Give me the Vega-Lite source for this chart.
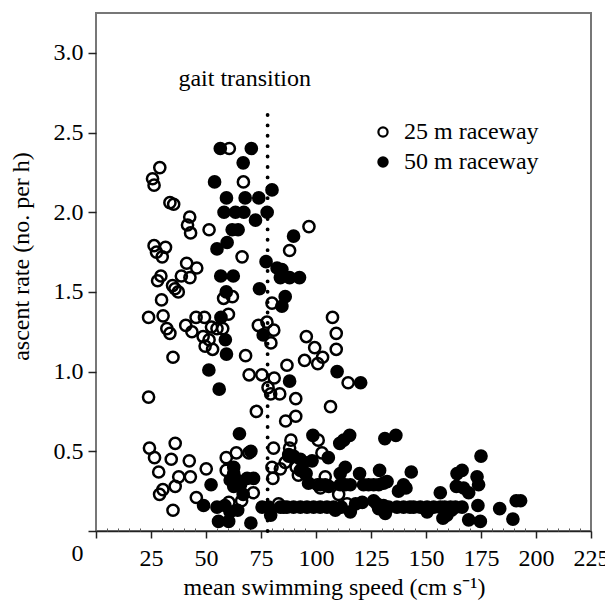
{
"$schema": "https://vega.github.io/schema/vega-lite/v6.json",
"width": 495, "height": 518,
"autosize": {"type": "none"},
"padding": {"left": 96, "top": 13, "right": 14, "bottom": 75},
"background": "white",
"config": {
  "view": {"stroke": "#777", "strokeWidth": 2},
  "font": "Liberation Serif",
  "axis": {"labelFont": "Liberation Serif", "titleFont": "Liberation Serif", "labelColor": "black", "titleColor": "black", "titleFontWeight": "normal", "labelFontSize": 24, "titleFontSize": 24, "grid": false, "labelFlush": false, "labelOverlap": false, "labelBound": false, "tickColor": "#222", "tickWidth": 1.5}
},
"resolve": {"axis": {"x": "independent"}},
"layer": [
{
  "data": {"values": [
{"speed":23.9,"rate":0.84,"raceway":"25 m raceway"},{"speed":23.9,"rate":1.34,"raceway":"25 m raceway"},{"speed":25.7,"rate":2.21,"raceway":"25 m raceway"},{"speed":26.4,"rate":2.17,"raceway":"25 m raceway"},{"speed":29.0,"rate":2.28,"raceway":"25 m raceway"},{"speed":26.4,"rate":1.79,"raceway":"25 m raceway"},{"speed":27.5,"rate":1.75,"raceway":"25 m raceway"},{"speed":31.6,"rate":1.78,"raceway":"25 m raceway"},{"speed":30.1,"rate":1.72,"raceway":"25 m raceway"},{"speed":29.5,"rate":1.60,"raceway":"25 m raceway"},{"speed":28.0,"rate":1.57,"raceway":"25 m raceway"},{"speed":29.8,"rate":1.45,"raceway":"25 m raceway"},{"speed":30.5,"rate":1.35,"raceway":"25 m raceway"},{"speed":32.2,"rate":1.27,"raceway":"25 m raceway"},{"speed":33.6,"rate":1.24,"raceway":"25 m raceway"},{"speed":34.8,"rate":1.54,"raceway":"25 m raceway"},{"speed":35.9,"rate":1.52,"raceway":"25 m raceway"},{"speed":37.4,"rate":1.50,"raceway":"25 m raceway"},{"speed":33.6,"rate":2.06,"raceway":"25 m raceway"},{"speed":35.3,"rate":2.05,"raceway":"25 m raceway"},{"speed":35.0,"rate":1.09,"raceway":"25 m raceway"},{"speed":42.6,"rate":1.97,"raceway":"25 m raceway"},{"speed":41.6,"rate":1.92,"raceway":"25 m raceway"},{"speed":43.0,"rate":1.87,"raceway":"25 m raceway"},{"speed":41.2,"rate":1.68,"raceway":"25 m raceway"},{"speed":38.8,"rate":1.60,"raceway":"25 m raceway"},{"speed":42.7,"rate":1.59,"raceway":"25 m raceway"},{"speed":45.8,"rate":1.65,"raceway":"25 m raceway"},{"speed":40.8,"rate":1.29,"raceway":"25 m raceway"},{"speed":43.6,"rate":1.25,"raceway":"25 m raceway"},{"speed":45.5,"rate":1.34,"raceway":"25 m raceway"},{"speed":49.3,"rate":1.34,"raceway":"25 m raceway"},{"speed":51.4,"rate":1.89,"raceway":"25 m raceway"},{"speed":48.7,"rate":1.22,"raceway":"25 m raceway"},{"speed":49.6,"rate":1.16,"raceway":"25 m raceway"},{"speed":51.4,"rate":1.20,"raceway":"25 m raceway"},{"speed":53.0,"rate":1.14,"raceway":"25 m raceway"},{"speed":52.5,"rate":1.28,"raceway":"25 m raceway"},{"speed":55.0,"rate":1.27,"raceway":"25 m raceway"},{"speed":57.6,"rate":1.27,"raceway":"25 m raceway"},{"speed":60.2,"rate":1.36,"raceway":"25 m raceway"},{"speed":58.0,"rate":1.46,"raceway":"25 m raceway"},{"speed":62.0,"rate":1.47,"raceway":"25 m raceway"},{"speed":66.4,"rate":1.72,"raceway":"25 m raceway"},{"speed":60.6,"rate":2.40,"raceway":"25 m raceway"},{"speed":67.0,"rate":2.19,"raceway":"25 m raceway"},{"speed":68.0,"rate":1.10,"raceway":"25 m raceway"},{"speed":69.6,"rate":0.98,"raceway":"25 m raceway"},{"speed":75.4,"rate":0.98,"raceway":"25 m raceway"},{"speed":72.9,"rate":0.75,"raceway":"25 m raceway"},{"speed":73.8,"rate":1.29,"raceway":"25 m raceway"},{"speed":77.7,"rate":1.31,"raceway":"25 m raceway"},{"speed":80.8,"rate":1.26,"raceway":"25 m raceway"},{"speed":79.5,"rate":1.18,"raceway":"25 m raceway"},{"speed":80.0,"rate":1.43,"raceway":"25 m raceway"},{"speed":78.2,"rate":0.90,"raceway":"25 m raceway"},{"speed":79.4,"rate":0.86,"raceway":"25 m raceway"},{"speed":81.0,"rate":0.96,"raceway":"25 m raceway"},{"speed":83.5,"rate":0.86,"raceway":"25 m raceway"},{"speed":86.8,"rate":1.04,"raceway":"25 m raceway"},{"speed":88.0,"rate":1.76,"raceway":"25 m raceway"},{"speed":90.8,"rate":0.83,"raceway":"25 m raceway"},{"speed":86.2,"rate":0.69,"raceway":"25 m raceway"},{"speed":90.8,"rate":0.72,"raceway":"25 m raceway"},{"speed":96.8,"rate":1.91,"raceway":"25 m raceway"},{"speed":95.6,"rate":1.22,"raceway":"25 m raceway"},{"speed":94.8,"rate":1.07,"raceway":"25 m raceway"},{"speed":99.4,"rate":1.15,"raceway":"25 m raceway"},{"speed":100.8,"rate":1.05,"raceway":"25 m raceway"},{"speed":103.0,"rate":1.09,"raceway":"25 m raceway"},{"speed":107.5,"rate":1.34,"raceway":"25 m raceway"},{"speed":109.2,"rate":1.24,"raceway":"25 m raceway"},{"speed":109.2,"rate":1.14,"raceway":"25 m raceway"},{"speed":106.6,"rate":0.78,"raceway":"25 m raceway"},{"speed":114.6,"rate":0.93,"raceway":"25 m raceway"},{"speed":101.0,"rate":0.57,"raceway":"25 m raceway"},{"speed":88.6,"rate":0.57,"raceway":"25 m raceway"},
{"speed":24.3,"rate":0.52,"raceway":"25 m raceway"},{"speed":26.6,"rate":0.46,"raceway":"25 m raceway"},{"speed":28.5,"rate":0.37,"raceway":"25 m raceway"},{"speed":28.9,"rate":0.23,"raceway":"25 m raceway"},{"speed":30.4,"rate":0.26,"raceway":"25 m raceway"},{"speed":34.2,"rate":0.45,"raceway":"25 m raceway"},{"speed":36.0,"rate":0.55,"raceway":"25 m raceway"},{"speed":37.6,"rate":0.34,"raceway":"25 m raceway"},{"speed":36.0,"rate":0.28,"raceway":"25 m raceway"},{"speed":35.0,"rate":0.13,"raceway":"25 m raceway"},{"speed":42.4,"rate":0.44,"raceway":"25 m raceway"},{"speed":42.9,"rate":0.34,"raceway":"25 m raceway"},{"speed":45.6,"rate":0.21,"raceway":"25 m raceway"},{"speed":50.1,"rate":0.39,"raceway":"25 m raceway"},{"speed":59.2,"rate":0.46,"raceway":"25 m raceway"},{"speed":63.8,"rate":0.49,"raceway":"25 m raceway"},{"speed":59.2,"rate":0.38,"raceway":"25 m raceway"},{"speed":60.4,"rate":0.18,"raceway":"25 m raceway"},{"speed":66.2,"rate":0.19,"raceway":"25 m raceway"},{"speed":71.5,"rate":0.24,"raceway":"25 m raceway"},{"speed":69.5,"rate":0.49,"raceway":"25 m raceway"},{"speed":80.7,"rate":0.52,"raceway":"25 m raceway"},{"speed":80.0,"rate":0.40,"raceway":"25 m raceway"},{"speed":83.8,"rate":0.39,"raceway":"25 m raceway"},{"speed":80.4,"rate":0.33,"raceway":"25 m raceway"},{"speed":86.0,"rate":0.43,"raceway":"25 m raceway"},{"speed":88.0,"rate":0.52,"raceway":"25 m raceway"},{"speed":87.6,"rate":0.48,"raceway":"25 m raceway"},{"speed":91.0,"rate":0.40,"raceway":"25 m raceway"},{"speed":92.0,"rate":0.35,"raceway":"25 m raceway"},{"speed":95.5,"rate":0.36,"raceway":"25 m raceway"},{"speed":102.7,"rate":0.49,"raceway":"25 m raceway"},{"speed":104.2,"rate":0.34,"raceway":"25 m raceway"},{"speed":100.7,"rate":0.29,"raceway":"25 m raceway"},{"speed":102.0,"rate":0.27,"raceway":"25 m raceway"},{"speed":110.3,"rate":0.23,"raceway":"25 m raceway"},{"speed":114.1,"rate":0.17,"raceway":"25 m raceway"},{"speed":83.0,"rate":0.17,"raceway":"25 m raceway"},
{"speed":56.5,"rate":2.40,"raceway":"50 m raceway"},{"speed":70.6,"rate":2.40,"raceway":"50 m raceway"},{"speed":66.9,"rate":2.31,"raceway":"50 m raceway"},{"speed":53.9,"rate":2.19,"raceway":"50 m raceway"},{"speed":80.0,"rate":2.14,"raceway":"50 m raceway"},{"speed":59.3,"rate":2.09,"raceway":"50 m raceway"},{"speed":67.8,"rate":2.09,"raceway":"50 m raceway"},{"speed":74.0,"rate":2.09,"raceway":"50 m raceway"},{"speed":58.2,"rate":2.00,"raceway":"50 m raceway"},{"speed":63.4,"rate":2.00,"raceway":"50 m raceway"},{"speed":67.2,"rate":2.00,"raceway":"50 m raceway"},{"speed":77.8,"rate":2.00,"raceway":"50 m raceway"},{"speed":72.5,"rate":1.95,"raceway":"50 m raceway"},{"speed":61.9,"rate":1.89,"raceway":"50 m raceway"},{"speed":64.6,"rate":1.89,"raceway":"50 m raceway"},{"speed":89.8,"rate":1.85,"raceway":"50 m raceway"},{"speed":59.6,"rate":1.81,"raceway":"50 m raceway"},{"speed":55.0,"rate":1.77,"raceway":"50 m raceway"},{"speed":77.3,"rate":1.69,"raceway":"50 m raceway"},{"speed":82.3,"rate":1.65,"raceway":"50 m raceway"},{"speed":84.5,"rate":1.64,"raceway":"50 m raceway"},{"speed":83.8,"rate":1.59,"raceway":"50 m raceway"},{"speed":88.0,"rate":1.59,"raceway":"50 m raceway"},{"speed":92.5,"rate":1.59,"raceway":"50 m raceway"},{"speed":86.0,"rate":1.47,"raceway":"50 m raceway"},{"speed":84.5,"rate":1.41,"raceway":"50 m raceway"},{"speed":56.7,"rate":1.60,"raceway":"50 m raceway"},{"speed":62.4,"rate":1.60,"raceway":"50 m raceway"},{"speed":74.3,"rate":1.52,"raceway":"50 m raceway"},{"speed":59.2,"rate":1.50,"raceway":"50 m raceway"},{"speed":56.8,"rate":1.34,"raceway":"50 m raceway"},{"speed":58.8,"rate":1.20,"raceway":"50 m raceway"},{"speed":76.0,"rate":1.23,"raceway":"50 m raceway"},{"speed":59.3,"rate":1.11,"raceway":"50 m raceway"},{"speed":51.3,"rate":1.01,"raceway":"50 m raceway"},{"speed":56.0,"rate":0.89,"raceway":"50 m raceway"},{"speed":88.0,"rate":0.94,"raceway":"50 m raceway"},{"speed":109.6,"rate":1.00,"raceway":"50 m raceway"},{"speed":120.3,"rate":0.93,"raceway":"50 m raceway"},
{"speed":65.2,"rate":0.61,"raceway":"50 m raceway"},{"speed":98.6,"rate":0.60,"raceway":"50 m raceway"},{"speed":110.8,"rate":0.55,"raceway":"50 m raceway"},{"speed":112.6,"rate":0.57,"raceway":"50 m raceway"},{"speed":115.3,"rate":0.60,"raceway":"50 m raceway"},{"speed":131.3,"rate":0.58,"raceway":"50 m raceway"},{"speed":136.3,"rate":0.60,"raceway":"50 m raceway"},{"speed":175.0,"rate":0.47,"raceway":"50 m raceway"},{"speed":105.6,"rate":0.46,"raceway":"50 m raceway"},{"speed":70.4,"rate":0.50,"raceway":"50 m raceway"},{"speed":62.6,"rate":0.40,"raceway":"50 m raceway"},{"speed":62.6,"rate":0.36,"raceway":"50 m raceway"},{"speed":61.0,"rate":0.32,"raceway":"50 m raceway"},{"speed":64.1,"rate":0.32,"raceway":"50 m raceway"},{"speed":71.6,"rate":0.33,"raceway":"50 m raceway"},{"speed":68.7,"rate":0.33,"raceway":"50 m raceway"},{"speed":52.3,"rate":0.29,"raceway":"50 m raceway"},{"speed":62.6,"rate":0.28,"raceway":"50 m raceway"},{"speed":65.7,"rate":0.29,"raceway":"50 m raceway"},{"speed":66.9,"rate":0.23,"raceway":"50 m raceway"},{"speed":48.9,"rate":0.16,"raceway":"50 m raceway"},{"speed":55.0,"rate":0.15,"raceway":"50 m raceway"},{"speed":58.6,"rate":0.16,"raceway":"50 m raceway"},{"speed":60.9,"rate":0.12,"raceway":"50 m raceway"},{"speed":64.4,"rate":0.13,"raceway":"50 m raceway"},{"speed":55.7,"rate":0.06,"raceway":"50 m raceway"},{"speed":60.3,"rate":0.06,"raceway":"50 m raceway"},{"speed":70.4,"rate":0.05,"raceway":"50 m raceway"},{"speed":75.5,"rate":0.15,"raceway":"50 m raceway"},{"speed":78.5,"rate":0.15,"raceway":"50 m raceway"},{"speed":79.4,"rate":0.10,"raceway":"50 m raceway"},{"speed":85.3,"rate":0.15,"raceway":"50 m raceway"},{"speed":87.6,"rate":0.47,"raceway":"50 m raceway"},{"speed":89.8,"rate":0.47,"raceway":"50 m raceway"},{"speed":92.9,"rate":0.45,"raceway":"50 m raceway"},{"speed":94.4,"rate":0.43,"raceway":"50 m raceway"},{"speed":98.2,"rate":0.44,"raceway":"50 m raceway"},{"speed":92.9,"rate":0.38,"raceway":"50 m raceway"},{"speed":95.1,"rate":0.36,"raceway":"50 m raceway"},{"speed":96.6,"rate":0.30,"raceway":"50 m raceway"},{"speed":102.0,"rate":0.29,"raceway":"50 m raceway"},{"speed":104.2,"rate":0.29,"raceway":"50 m raceway"},{"speed":105.8,"rate":0.28,"raceway":"50 m raceway"},{"speed":111.0,"rate":0.36,"raceway":"50 m raceway"},{"speed":113.3,"rate":0.40,"raceway":"50 m raceway"},{"speed":111.0,"rate":0.29,"raceway":"50 m raceway"},{"speed":113.3,"rate":0.29,"raceway":"50 m raceway"},{"speed":115.6,"rate":0.29,"raceway":"50 m raceway"},{"speed":119.8,"rate":0.36,"raceway":"50 m raceway"},{"speed":121.6,"rate":0.29,"raceway":"50 m raceway"},{"speed":123.9,"rate":0.29,"raceway":"50 m raceway"},{"speed":126.2,"rate":0.29,"raceway":"50 m raceway"},{"speed":128.5,"rate":0.29,"raceway":"50 m raceway"},{"speed":130.7,"rate":0.30,"raceway":"50 m raceway"},{"speed":128.9,"rate":0.38,"raceway":"50 m raceway"},{"speed":132.3,"rate":0.31,"raceway":"50 m raceway"},{"speed":139.8,"rate":0.29,"raceway":"50 m raceway"},{"speed":140.9,"rate":0.27,"raceway":"50 m raceway"},{"speed":143.3,"rate":0.37,"raceway":"50 m raceway"},{"speed":137.5,"rate":0.25,"raceway":"50 m raceway"},{"speed":83.8,"rate":0.15,"raceway":"50 m raceway"},{"speed":86.8,"rate":0.15,"raceway":"50 m raceway"},{"speed":89.8,"rate":0.15,"raceway":"50 m raceway"},{"speed":92.9,"rate":0.15,"raceway":"50 m raceway"},{"speed":95.9,"rate":0.15,"raceway":"50 m raceway"},{"speed":98.9,"rate":0.15,"raceway":"50 m raceway"},{"speed":101.9,"rate":0.15,"raceway":"50 m raceway"},{"speed":105.0,"rate":0.15,"raceway":"50 m raceway"},{"speed":108.0,"rate":0.15,"raceway":"50 m raceway"},{"speed":108.8,"rate":0.13,"raceway":"50 m raceway"},{"speed":111.5,"rate":0.15,"raceway":"50 m raceway"},{"speed":115.6,"rate":0.12,"raceway":"50 m raceway"},{"speed":118.0,"rate":0.17,"raceway":"50 m raceway"},{"speed":121.0,"rate":0.18,"raceway":"50 m raceway"},{"speed":126.2,"rate":0.19,"raceway":"50 m raceway"},{"speed":127.7,"rate":0.17,"raceway":"50 m raceway"},{"speed":130.7,"rate":0.16,"raceway":"50 m raceway"},{"speed":133.0,"rate":0.15,"raceway":"50 m raceway"},{"speed":128.5,"rate":0.14,"raceway":"50 m raceway"},{"speed":131.5,"rate":0.11,"raceway":"50 m raceway"},{"speed":136.8,"rate":0.15,"raceway":"50 m raceway"},{"speed":139.8,"rate":0.15,"raceway":"50 m raceway"},{"speed":142.7,"rate":0.15,"raceway":"50 m raceway"},{"speed":144.4,"rate":0.15,"raceway":"50 m raceway"},{"speed":147.4,"rate":0.15,"raceway":"50 m raceway"},{"speed":150.5,"rate":0.15,"raceway":"50 m raceway"},{"speed":153.5,"rate":0.15,"raceway":"50 m raceway"},{"speed":156.5,"rate":0.15,"raceway":"50 m raceway"},{"speed":158.5,"rate":0.15,"raceway":"50 m raceway"},{"speed":161.1,"rate":0.15,"raceway":"50 m raceway"},{"speed":163.4,"rate":0.15,"raceway":"50 m raceway"},{"speed":166.4,"rate":0.15,"raceway":"50 m raceway"},{"speed":156.5,"rate":0.24,"raceway":"50 m raceway"},{"speed":150.5,"rate":0.12,"raceway":"50 m raceway"},{"speed":157.7,"rate":0.08,"raceway":"50 m raceway"},{"speed":159.5,"rate":0.10,"raceway":"50 m raceway"},{"speed":161.6,"rate":0.13,"raceway":"50 m raceway"},{"speed":164.1,"rate":0.36,"raceway":"50 m raceway"},{"speed":166.4,"rate":0.38,"raceway":"50 m raceway"},{"speed":163.8,"rate":0.28,"raceway":"50 m raceway"},{"speed":167.1,"rate":0.27,"raceway":"50 m raceway"},{"speed":169.4,"rate":0.24,"raceway":"50 m raceway"},{"speed":173.2,"rate":0.34,"raceway":"50 m raceway"},{"speed":173.9,"rate":0.29,"raceway":"50 m raceway"},{"speed":169.4,"rate":0.07,"raceway":"50 m raceway"},{"speed":174.7,"rate":0.06,"raceway":"50 m raceway"},{"speed":173.6,"rate":0.16,"raceway":"50 m raceway"},{"speed":183.5,"rate":0.14,"raceway":"50 m raceway"},{"speed":189.5,"rate":0.075,"raceway":"50 m raceway"},{"speed":191.0,"rate":0.19,"raceway":"50 m raceway"},{"speed":193.0,"rate":0.19,"raceway":"50 m raceway"}
  ]},
  "mark": {"type": "point", "shape": "circle", "filled": true, "stroke": "black", "strokeWidth": 2.5, "opacity": 1, "size": 125},
  "encoding": {
    "x": {"field": "speed", "type": "quantitative", "scale": {"domain": [0, 225], "nice": false, "zero": false},
      "axis": {"values": [0, 25, 50, 75, 100, 125, 150, 175, 200, 225], "labelExpr": "datum.value == 0 ? '' : datum.label", "title": "mean swimming speed (cm s⁻¹)", "titleX": 238, "titleY": 63, "titleBaseline": "alphabetic", "titleAlign": "center", "titleAnchor": null, "tickSize": 7, "labelPadding": 8, "domainColor": "#222", "domainWidth": 1.5}},
    "y": {"field": "rate", "type": "quantitative", "scale": {"domain": [0, 3.25], "nice": false},
      "axis": {"values": [0, 0.5, 1, 1.5, 2, 2.5, 3], "labelExpr": "datum.value == 0 ? '0' : format(datum.value, '.1f')", "labelOffset": {"condition": {"test": "datum.value == 0", "value": 22}, "value": 0}, "title": "ascent rate (no. per h)", "titleX": -75, "titleY": 243, "titleAngle": 270, "titleAlign": "center", "titleBaseline": "middle", "tickSize": 8, "labelPadding": 5, "domain": false}},
    "fill": {"field": "raceway", "type": "nominal", "scale": {"domain": ["25 m raceway", "50 m raceway"], "range": ["transparent", "black"]},
      "legend": {"title": null, "orient": "none", "legendX": 275, "legendY": 107, "labelFontSize": 24, "labelFont": "Liberation Serif", "labelColor": "black", "symbolSize": 85, "symbolType": "circle", "symbolStrokeColor": "black", "symbolStrokeWidth": 2.2, "rowPadding": 6, "labelOffset": 9, "padding": 0}}
  }
},
{
  "data": {"values": [{"speed": 78, "rate": 0, "rate2": 2.66}]},
  "mark": {"type": "rule", "color": "black", "strokeWidth": 3.8, "strokeDash": [0.1, 10.3], "strokeCap": "round"},
  "encoding": {
    "x": {"field": "speed", "type": "quantitative", "axis": {"orient": "bottom", "values": [5,10,15,20,30,35,40,45,55,60,65,70,80,85,90,95,105,110,115,120,130,135,140,145,155,160,165,170,180,185,190,195,205,210,215,220], "labels": false, "domain": false, "title": null, "tickSize": -3, "tickWidth": 1, "tickColor": "#555"}},
    "y": {"field": "rate", "type": "quantitative"},
    "y2": {"field": "rate2"}
  }
},
{
  "data": {"values": [{"speed": 67.6, "rate": 2.79, "label": "gait transition"}]},
  "mark": {"type": "text", "font": "Liberation Serif", "fontSize": 24, "align": "center", "baseline": "alphabetic", "color": "black"},
  "encoding": {
    "x": {"field": "speed", "type": "quantitative", "axis": null},
    "y": {"field": "rate", "type": "quantitative"},
    "text": {"field": "label"}
  }
}
]
}
